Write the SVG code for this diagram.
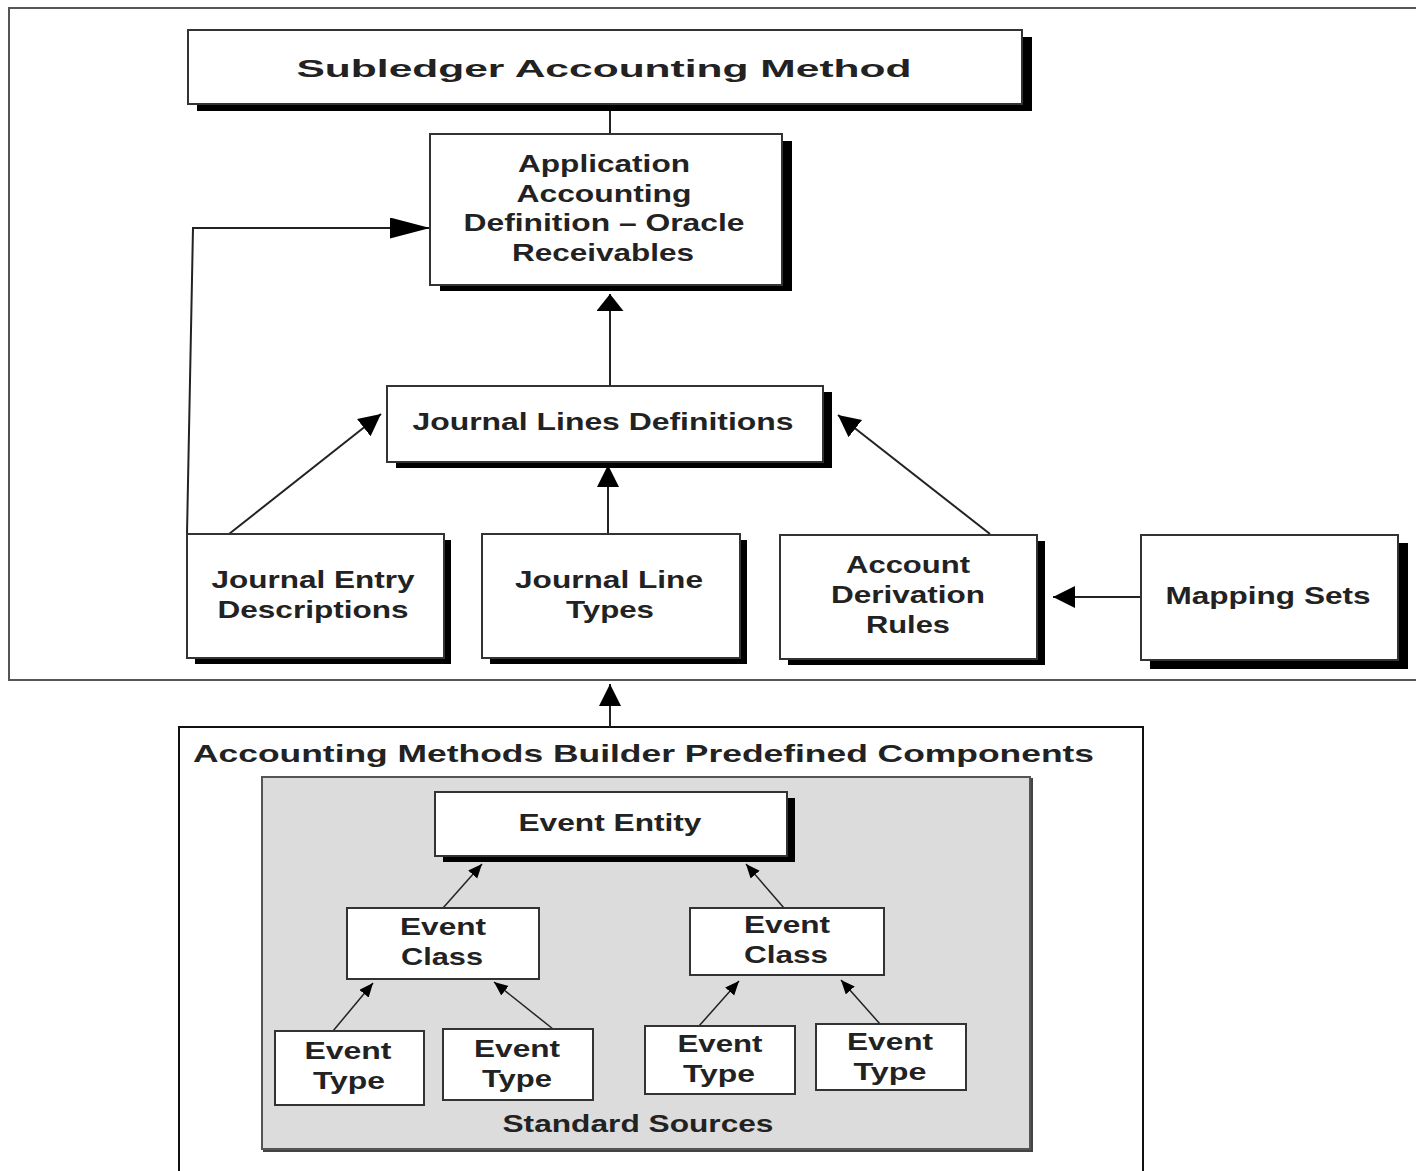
<svg xmlns="http://www.w3.org/2000/svg" width="1416" height="1171" viewBox="0 0 1416 1171">
<defs>
<style>
.box{fill:#fff;stroke:#333;stroke-width:2}
.sh{fill:#000}
.t{font-family:"Liberation Sans",Arial,sans-serif;font-weight:bold;fill:#222;font-size:24px}
.c{text-anchor:middle}
.ln{fill:none;stroke:#222;stroke-width:2}
.ls{fill:none;stroke:#222;stroke-width:1.5}
</style>
<marker id="ah" markerUnits="userSpaceOnUse" markerWidth="24" markerHeight="24" refX="22" refY="11" orient="auto"><path d="M0,0 L22,11 L0,22 z" fill="#000"/></marker>
<marker id="ahu" markerUnits="userSpaceOnUse" markerWidth="20" markerHeight="28" refX="17" refY="13.5" orient="auto"><path d="M0,0 L17,13.5 L0,27 z" fill="#000"/></marker>
<marker id="ahl" markerUnits="userSpaceOnUse" markerWidth="42" markerHeight="22" refX="40" refY="10.5" orient="auto"><path d="M0,0 L40,10.5 L0,21 z" fill="#000"/></marker>
<marker id="as" markerUnits="userSpaceOnUse" markerWidth="16" markerHeight="14" refX="14" refY="6" orient="auto"><path d="M0,0 L14,6 L0,12 z" fill="#000"/></marker>
</defs>
<rect width="1416" height="1171" fill="#fff"/>

<g id="frame">
<rect x="9" y="8" width="1420" height="672" fill="none" stroke="#555" stroke-width="2"/>
</g>

<g id="amb-container">
<rect x="179" y="727" width="964" height="460" fill="#fff" stroke="#111" stroke-width="2"/>
<text class="t" x="193" y="762" font-size="27" textLength="901" lengthAdjust="spacingAndGlyphs">Accounting Methods Builder Predefined Components</text>
</g>

<g id="standard-sources">
<rect x="263" y="778" width="770" height="374" fill="#444"/>
<rect x="262" y="777" width="768" height="372" fill="#dcdcdc" stroke="#555" stroke-width="2"/>
<text class="t c" x="638" y="1132" textLength="271" lengthAdjust="spacingAndGlyphs">Standard Sources</text>
</g>

<g id="connectors">
<line class="ln" x1="610" y1="104" x2="610" y2="134"/>
<line class="ln" x1="610" y1="386" x2="610" y2="294" marker-end="url(#ahu)"/>
<polyline class="ln" points="187,534 193,228 430,228" marker-end="url(#ahl)"/>
<line class="ln" x1="229" y1="534" x2="381" y2="414" marker-end="url(#ah)"/>
<line class="ln" x1="608" y1="534" x2="608" y2="465" marker-end="url(#ah)"/>
<line class="ln" x1="990" y1="534" x2="838" y2="415" marker-end="url(#ah)"/>
<line class="ln" x1="1141" y1="597" x2="1053" y2="597" marker-end="url(#ah)"/>
<line class="ln" x1="610" y1="727" x2="610" y2="684" marker-end="url(#ah)"/>
<line class="ls" x1="443" y1="908" x2="482" y2="864" marker-end="url(#as)"/>
<line class="ls" x1="784" y1="908" x2="746" y2="864" marker-end="url(#as)"/>
<line class="ls" x1="333" y1="1031" x2="373" y2="983" marker-end="url(#as)"/>
<line class="ls" x1="553" y1="1029" x2="494" y2="982" marker-end="url(#as)"/>
<line class="ls" x1="699" y1="1026" x2="739" y2="981" marker-end="url(#as)"/>
<line class="ls" x1="880" y1="1024" x2="841" y2="980" marker-end="url(#as)"/>
</g>

<g id="subledger">
<rect class="sh" x="197" y="37" width="835" height="74"/>
<rect class="box" x="188" y="30" width="834" height="74"/>
<text class="t c" x="604" y="77" font-size="38" textLength="615" lengthAdjust="spacingAndGlyphs">Subledger Accounting Method</text>
</g>

<g id="aad">
<rect class="sh" x="440" y="141" width="352" height="150"/>
<rect class="box" x="430" y="134" width="352" height="151"/>
<text class="t c" x="604" y="172" textLength="172" lengthAdjust="spacingAndGlyphs">Application</text>
<text class="t c" x="604" y="202" textLength="175" lengthAdjust="spacingAndGlyphs">Accounting</text>
<text class="t c" x="604" y="231" textLength="281" lengthAdjust="spacingAndGlyphs">Definition – Oracle</text>
<text class="t c" x="603" y="261" textLength="182" lengthAdjust="spacingAndGlyphs">Receivables</text>
</g>

<g id="jld">
<rect class="sh" x="396" y="392" width="436" height="76"/>
<rect class="box" x="387" y="386" width="436" height="76"/>
<text class="t c" x="603" y="430" textLength="381" lengthAdjust="spacingAndGlyphs">Journal Lines Definitions</text>
</g>

<g id="jed">
<rect class="sh" x="195" y="540" width="256" height="124"/>
<rect class="box" x="187" y="534" width="257" height="124"/>
<text class="t c" x="313" y="588" textLength="203" lengthAdjust="spacingAndGlyphs">Journal Entry</text>
<text class="t c" x="313" y="618" textLength="191" lengthAdjust="spacingAndGlyphs">Descriptions</text>
</g>

<g id="jlt">
<rect class="sh" x="490" y="540" width="257" height="124"/>
<rect class="box" x="482" y="534" width="258" height="124"/>
<text class="t c" x="609" y="588" textLength="188" lengthAdjust="spacingAndGlyphs">Journal Line</text>
<text class="t c" x="610" y="618" textLength="88" lengthAdjust="spacingAndGlyphs">Types</text>
</g>

<g id="adr">
<rect class="sh" x="788" y="541" width="257" height="124"/>
<rect class="box" x="780" y="535" width="257" height="124"/>
<text class="t c" x="908" y="573" textLength="124" lengthAdjust="spacingAndGlyphs">Account</text>
<text class="t c" x="908" y="603" textLength="154" lengthAdjust="spacingAndGlyphs">Derivation</text>
<text class="t c" x="908" y="633" textLength="84" lengthAdjust="spacingAndGlyphs">Rules</text>
</g>

<g id="mapping-sets">
<rect class="sh" x="1150" y="543" width="258" height="126"/>
<rect class="box" x="1141" y="535" width="257" height="125"/>
<text class="t c" x="1268" y="604" textLength="205" lengthAdjust="spacingAndGlyphs">Mapping Sets</text>
</g>

<g id="event-entity">
<rect class="sh" x="443" y="798" width="352" height="64"/>
<rect class="box" x="435" y="792" width="352" height="64"/>
<text class="t c" x="610" y="831" textLength="183" lengthAdjust="spacingAndGlyphs">Event Entity</text>
</g>

<g id="event-class-1">
<rect class="box" x="347" y="908" width="192" height="71"/>
<text class="t c" x="443" y="935" textLength="86" lengthAdjust="spacingAndGlyphs">Event</text>
<text class="t c" x="442" y="965" textLength="82" lengthAdjust="spacingAndGlyphs">Class</text>
</g>

<g id="event-class-2">
<rect class="box" x="690" y="908" width="194" height="67"/>
<text class="t c" x="787" y="933" textLength="86" lengthAdjust="spacingAndGlyphs">Event</text>
<text class="t c" x="786" y="963" textLength="84" lengthAdjust="spacingAndGlyphs">Class</text>
</g>

<g id="event-type-1">
<rect class="box" x="275" y="1031" width="149" height="74"/>
<text class="t c" x="348" y="1059" textLength="87" lengthAdjust="spacingAndGlyphs">Event</text>
<text class="t c" x="349" y="1089" textLength="72" lengthAdjust="spacingAndGlyphs">Type</text>
</g>

<g id="event-type-2">
<rect class="box" x="443" y="1029" width="150" height="71"/>
<text class="t c" x="517" y="1057" textLength="86" lengthAdjust="spacingAndGlyphs">Event</text>
<text class="t c" x="517" y="1087" textLength="70" lengthAdjust="spacingAndGlyphs">Type</text>
</g>

<g id="event-type-3">
<rect class="box" x="645" y="1026" width="150" height="68"/>
<text class="t c" x="720" y="1052" textLength="85" lengthAdjust="spacingAndGlyphs">Event</text>
<text class="t c" x="719" y="1082" textLength="72" lengthAdjust="spacingAndGlyphs">Type</text>
</g>

<g id="event-type-4">
<rect class="box" x="816" y="1024" width="150" height="66"/>
<text class="t c" x="890" y="1050" textLength="86" lengthAdjust="spacingAndGlyphs">Event</text>
<text class="t c" x="890" y="1080" textLength="73" lengthAdjust="spacingAndGlyphs">Type</text>
</g>
</svg>
